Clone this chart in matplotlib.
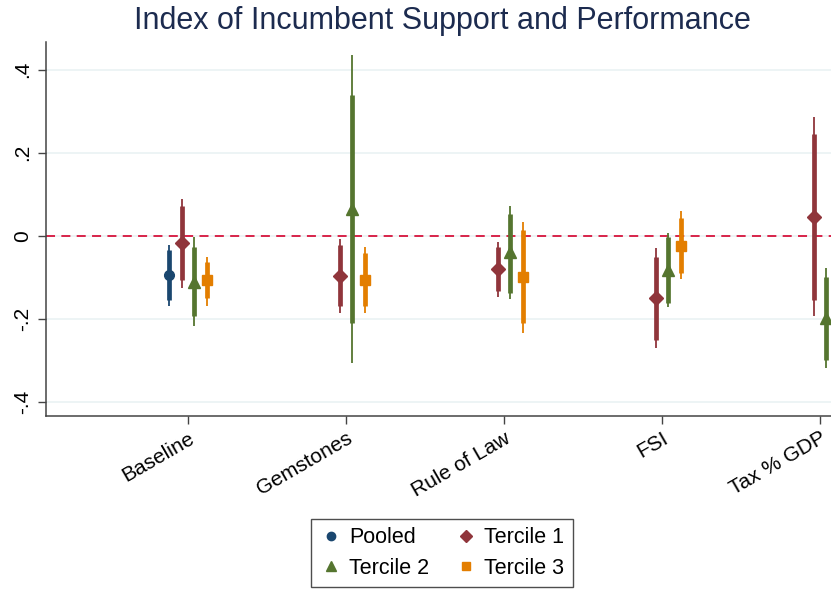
import numpy as np
import matplotlib
matplotlib.use("Agg")
import matplotlib.pyplot as plt
from matplotlib.lines import Line2D

plt.rcParams['font.family'] = ['Liberation Sans', 'DejaVu Sans']

nan = np.nan
categories = ["Baseline", "Gemstones", "Rule of Law", "FSI", "Tax % GDP"]
yticks = [-0.4, -0.2, 0.0, 0.2, 0.4]
yticklabels = ["-.4", "-.2", "0", ".2", ".4"]

pooled_b = [-0.095, nan, nan, nan, nan]
pooled_lo90 = [-0.155, nan, nan, nan, nan]
pooled_hi90 = [-0.035, nan, nan, nan, nan]
pooled_lo95 = [-0.168, nan, nan, nan, nan]
pooled_hi95 = [-0.022, nan, nan, nan, nan]

t1_b = [-0.018, -0.096, -0.080, -0.150, 0.046]
t1_lo90 = [-0.106, -0.170, -0.134, -0.250, -0.154]
t1_hi90 = [0.071, -0.022, -0.026, -0.050, 0.246]
t1_lo95 = [-0.125, -0.186, -0.148, -0.270, -0.194]
t1_hi95 = [0.088, -0.007, -0.014, -0.030, 0.286]

t2_b = [-0.110, 0.065, -0.040, -0.082, -0.198]
t2_lo90 = [-0.194, -0.209, -0.138, -0.162, -0.298]
t2_hi90 = [-0.026, 0.340, 0.053, -0.002, -0.098]
t2_lo95 = [-0.218, -0.307, -0.153, -0.172, -0.318]
t2_hi95 = [-0.002, 0.436, 0.072, 0.008, -0.078]

t3_b = [-0.107, -0.106, -0.100, -0.024, nan]
t3_lo90 = [-0.149, -0.170, -0.210, -0.090, nan]
t3_hi90 = [-0.062, -0.042, 0.013, 0.043, nan]
t3_lo95 = [-0.169, -0.186, -0.233, -0.104, nan]
t3_hi95 = [-0.051, -0.027, 0.034, 0.059, nan]

series = [
    ("Pooled", "#1a476f", "o", 7, -0.12, pooled_b, pooled_lo90, pooled_hi90, pooled_lo95, pooled_hi95),
    ("Tercile 1", "#90353b", "D", 7, -0.04, t1_b, t1_lo90, t1_hi90, t1_lo95, t1_hi95),
    ("Tercile 2", "#55752f", "^", 8, 0.04, t2_b, t2_lo90, t2_hi90, t2_lo95, t2_hi95),
    ("Tercile 3", "#e37e00", "s", 7, 0.12, t3_b, t3_lo90, t3_hi90, t3_lo95, t3_hi95),
]

fig = plt.figure(figsize=(8.31, 5.90), dpi=100)
ax = fig.add_axes([46/831, 1-416/590, (831-46)/831, (416-42)/590])

xpos = np.arange(1, len(categories) + 1)

for yv in yticks:
    ax.axhline(yv, color="#eaf2f3", lw=1.2, zorder=0)
ax.axhline(0, color="#d6143c", lw=1.3, ls=(0, (5, 3.5)), zorder=1)

handles = []
for name, col, mk, ms, off, b, lo90, hi90, lo95, hi95 in series:
    x = xpos + off
    ax.vlines(x, lo95, hi95, color=col, lw=1.3, zorder=2)
    ax.vlines(x, lo90, hi90, color=col, lw=3.4, zorder=3)
    ax.plot(x, b, ls="none", marker=mk, ms=ms, color=col, mec=col, zorder=4)
    handles.append(Line2D([], [], ls="none", marker=mk, ms=ms - 1, color=col, label=name))

ax.set_xlim(0.101, 5.07)
ax.set_ylim(-0.434, 0.467)
ax.set_yticks(yticks)
ax.set_yticklabels(yticklabels, rotation=90, va="center", fontsize=15)
ax.set_xticks(xpos)
ax.set_xticklabels(categories, rotation=30, ha="right", rotation_mode="anchor", fontsize=15)
ax.tick_params(axis="both", length=6, width=1, color="#444444")
ax.tick_params(axis="x", pad=3)
ax.tick_params(axis="y", pad=4)
for s in ["top", "right"]:
    ax.spines[s].set_visible(False)
for s in ["left", "bottom"]:
    ax.spines[s].set_color("#444444")
    ax.spines[s].set_linewidth(1.1)

fig.text(0.532, 0.965, "Index of Incumbent Support and Performance", ha="center", va="center",
         fontsize=22, color="#1c2b4f")

leg = fig.legend(handles=[handles[0], handles[2], handles[1], handles[3]], ncol=2,
                 loc="center", bbox_to_anchor=(442/831, 1-553/590), fontsize=15.5,
                 frameon=True, fancybox=False, edgecolor="#222222", handletextpad=0.35,
                 columnspacing=1.2, borderpad=0.4, labelspacing=0.45, handlelength=1.0)
leg.get_frame().set_linewidth(1.0)

fig.savefig("out.png", dpi=100, facecolor="white")
